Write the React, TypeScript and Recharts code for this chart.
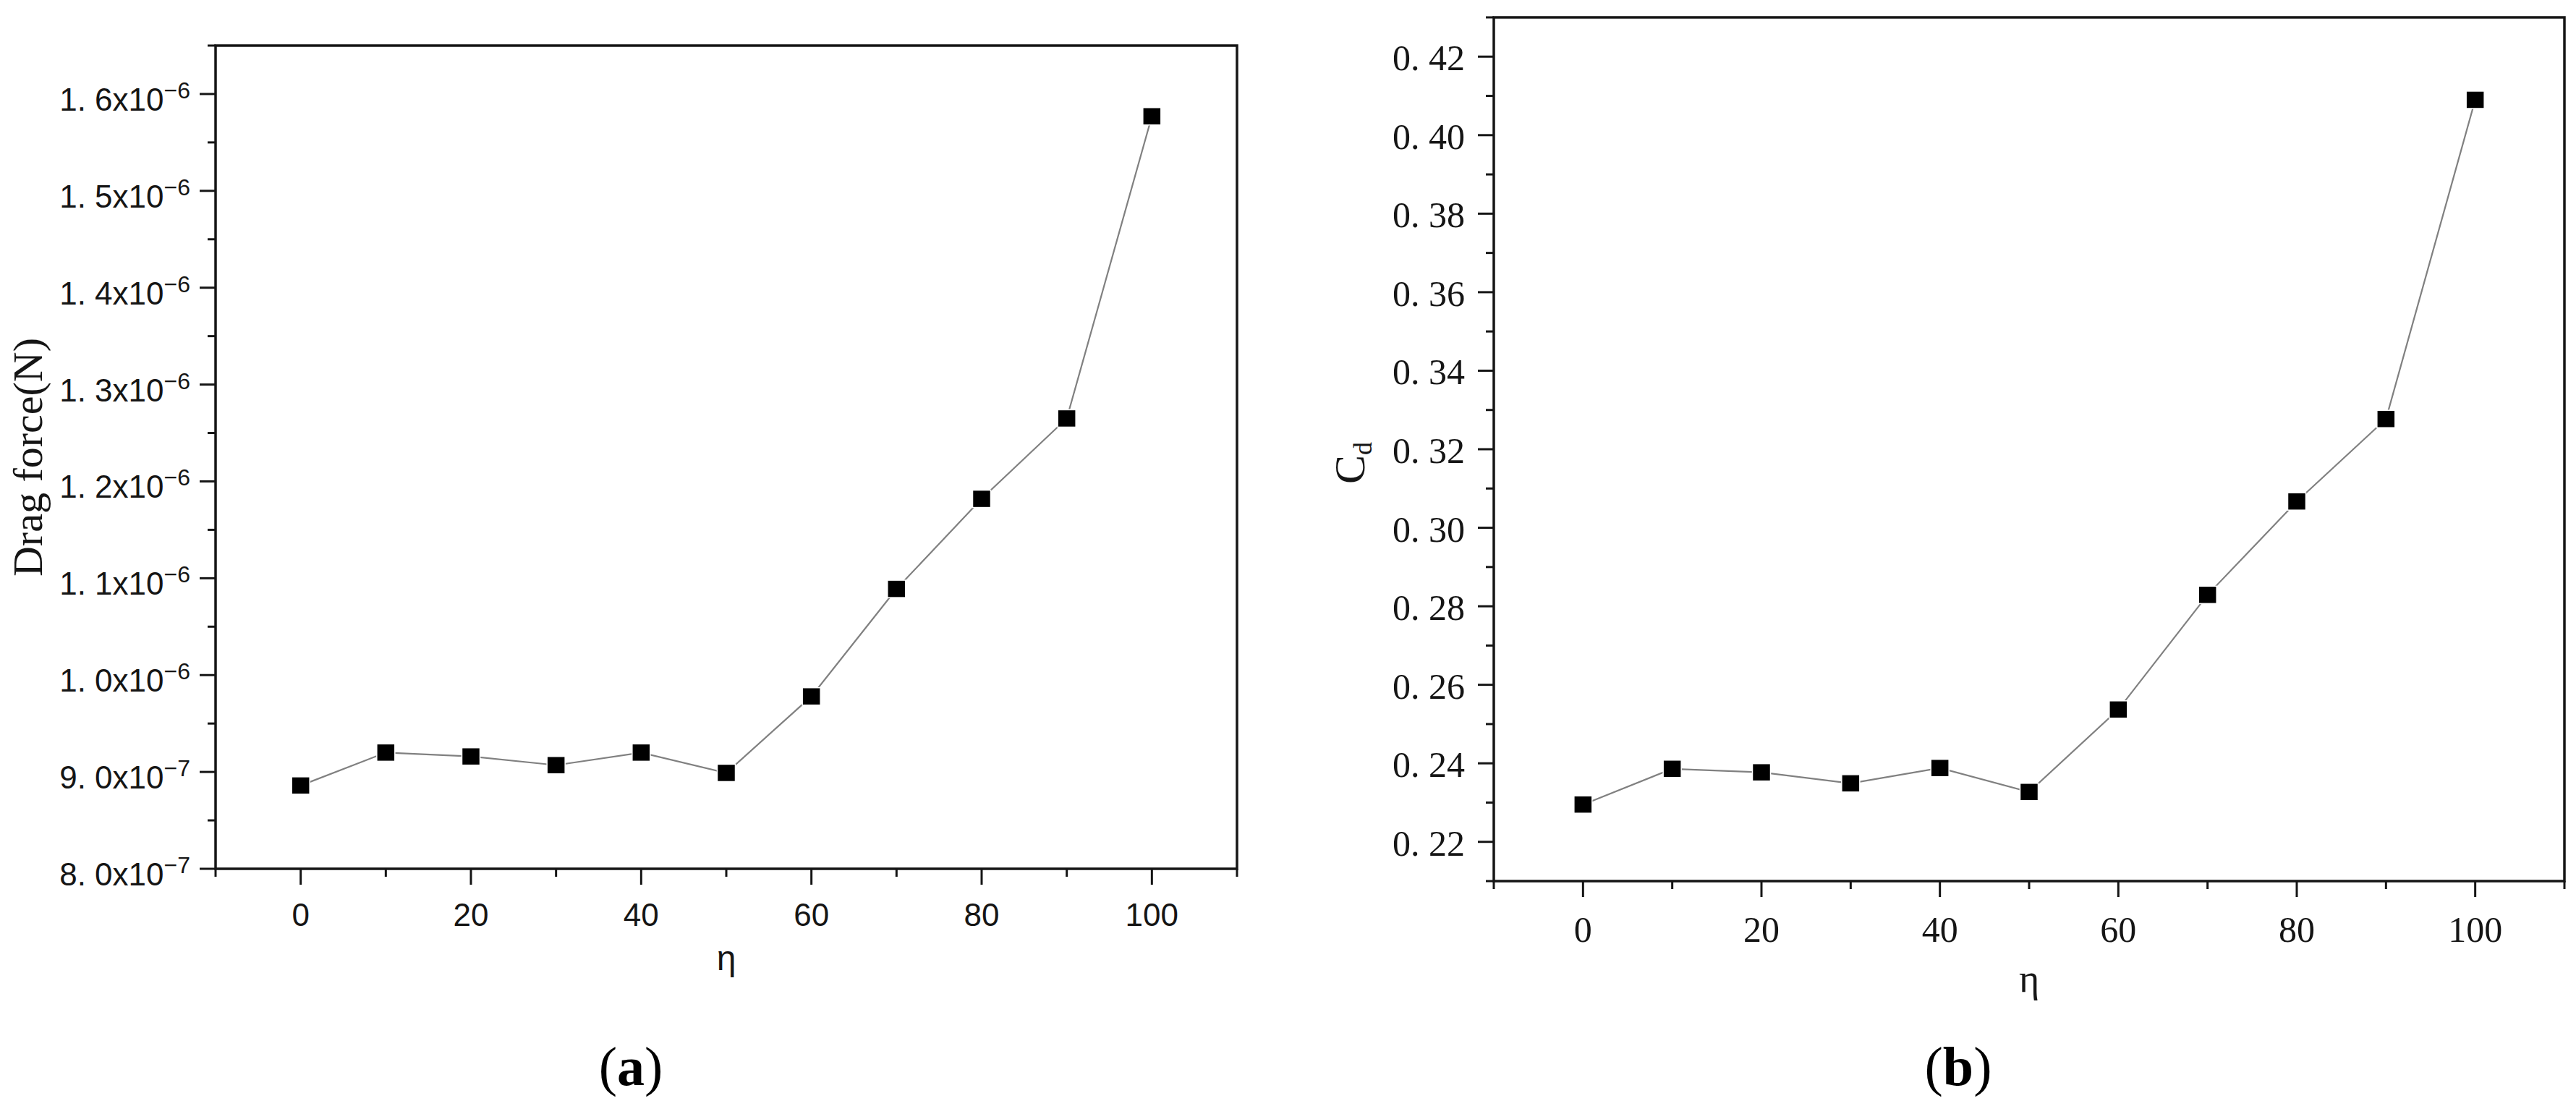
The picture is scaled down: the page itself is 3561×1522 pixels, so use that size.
import { LineChart, Line, XAxis, YAxis, ReferenceArea, Label } from 'recharts';

// η (%) on the x axis
const etaValues = [0, 10, 20, 30, 40, 50, 60, 70, 80, 90, 100];
// (a) drag force in N
const dragForce = [8.86e-7, 9.2e-7, 9.16e-7, 9.07e-7, 9.2e-7, 8.99e-7, 9.78e-7, 1.089e-6, 1.182e-6, 1.265e-6, 1.577e-6];
// (b) drag coefficient
const dragCoeff = [0.2295, 0.2386, 0.2377, 0.2349, 0.2388, 0.2327, 0.2537, 0.2829, 0.3067, 0.3277, 0.409];

const etaMajorTicks = [0, 20, 40, 60, 80, 100];
const etaMinorTicks = [-10, 10, 30, 50, 70, 90, 110];

const forceMajorTicks = [8e-7, 9e-7, 1e-6, 1.1e-6, 1.2e-6, 1.3e-6, 1.4e-6, 1.5e-6, 1.6e-6];
const forceTickMantissas = ['8. 0', '9. 0', '1. 0', '1. 1', '1. 2', '1. 3', '1. 4', '1. 5', '1. 6'];
const forceTickExponents = ['−7', '−7', '−6', '−6', '−6', '−6', '−6', '−6', '−6'];
const forceMinorTicks = [8.5e-7, 9.5e-7, 1.05e-6, 1.15e-6, 1.25e-6, 1.35e-6, 1.45e-6, 1.55e-6, 1.65e-6];

const cdMajorTicks = [0.22, 0.24, 0.26, 0.28, 0.3, 0.32, 0.34, 0.36, 0.38, 0.4, 0.42];
const cdTickLabels = ['0. 22', '0. 24', '0. 26', '0. 28', '0. 30', '0. 32', '0. 34', '0. 36', '0. 38', '0. 40', '0. 42'];
const cdMinorTicks = [0.21, 0.23, 0.25, 0.27, 0.29, 0.31, 0.33, 0.35, 0.37, 0.39, 0.41, 0.43];

const data = etaValues.map((eta, i) => ({ eta, force: dragForce[i], cd: dragCoeff[i] }));

const sans = "'Liberation Sans', Arial, sans-serif";
const serif = "'Liberation Serif', 'Times New Roman', serif";
const ink = '#151515';

const allSorted = (a: number[], b: number[]) => [...a, ...b].sort((p, q) => p - q);
const findTick = (list: number[], v: number) => list.findIndex((m) => Math.abs(m - v) <= Math.abs(m) * 1e-6 + 1e-12);

const makeEtaTick = (font: string, size: number, dy: number) => (props: any) => {
  const { x, y, payload } = props;
  const major = findTick(etaMajorTicks, payload.value) >= 0;
  return (
    <g>
      <line x1={x} x2={x} y1={y} y2={y + (major ? 22 : 11)} stroke={ink} strokeWidth={3} />
      {major && (
        <text x={x} y={y + dy} textAnchor="middle" fontFamily={font} fontSize={size} fill={ink}>
          {payload.value}
        </text>
      )}
    </g>
  );
};

const ForceTick = (props: any) => {
  const { x, y, payload } = props;
  const i = findTick(forceMajorTicks, payload.value);
  return (
    <g>
      <line x1={x} x2={x - (i >= 0 ? 22 : 11)} y1={y} y2={y} stroke={ink} strokeWidth={3} />
      {i >= 0 && (
        <text x={x - 35} y={y + 23} textAnchor="end" fontFamily={sans} fontSize={44} fill={ink}>
          {forceTickMantissas[i]}x10
          <tspan dy={-17} fontSize={32}>{forceTickExponents[i]}</tspan>
        </text>
      )}
    </g>
  );
};

const CdTick = (props: any) => {
  const { x, y, payload } = props;
  const i = findTick(cdMajorTicks, payload.value);
  return (
    <g>
      <line x1={x} x2={x - (i >= 0 ? 22 : 11)} y1={y} y2={y} stroke={ink} strokeWidth={3} />
      {i >= 0 && (
        <text x={x - 40} y={y + 19} textAnchor="end" fontFamily={serif} fontSize={50} fill={ink}>
          {cdTickLabels[i]}
        </text>
      )}
    </g>
  );
};

const squareDot = (p: any) => (
  <rect key={`sq-${p.index}`} x={p.cx - 12.5} y={p.cy - 12} width={25} height={24} fill="#000" stroke="#fff" strokeWidth={1.5} />
);

const caption = (letter: string, x: number) => (
  <text x={x} y={1500} textAnchor="middle" fontFamily={serif} fontSize={76} fill="#000">
    (<tspan fontWeight="bold">{letter}</tspan>)
  </text>
);

const App = () => {
  return (
    <div style={{ position: 'absolute', left: 0, top: 0, width: 3561, height: 1522, background: '#fff', overflow: 'hidden' }}>
      <div style={{ position: 'absolute', left: 0, top: 0 }}>
        <LineChart width={1780} height={1522} data={data} margin={{ top: 63, right: 70, bottom: 0, left: 0 }}>
          <XAxis
            dataKey="eta"
            type="number"
            domain={[-10, 110]}
            ticks={allSorted(etaMajorTicks, etaMinorTicks)}
            interval={0}
            tickSize={0}
            tickMargin={0}
            axisLine={false}
            tickLine={false}
            tick={makeEtaTick(sans, 44, 79)}
            height={321}
            allowDataOverflow
          >
            <Label
              content={() => (
                <g>
                  <text x={1004} y={1341} textAnchor="middle" fontFamily={sans} fontSize={48} fill={ink}>η</text>
                  {caption('a', 872)}
                </g>
              )}
            />
          </XAxis>
          <YAxis
            type="number"
            domain={[8e-7, 1.65e-6]}
            ticks={allSorted(forceMajorTicks, forceMinorTicks)}
            interval={0}
            tickSize={0}
            tickMargin={0}
            axisLine={false}
            tickLine={false}
            tick={ForceTick}
            width={298}
            allowDataOverflow
          >
            <Label
              content={() => (
                <text x={58} y={632} transform="rotate(-90 58 632)" textAnchor="middle" fontFamily={serif} fontSize={58} fill={ink}>
                  Drag force(N)
                </text>
              )}
            />
          </YAxis>
          <ReferenceArea x1={-10} x2={110} y1={8e-7} y2={1.65e-6} fill="none" stroke={ink} strokeWidth={3.5} ifOverflow="visible" />
          <Line type="linear" dataKey="force" stroke="#808080" strokeWidth={2.2} dot={squareDot} activeDot={false} isAnimationActive={false} />
        </LineChart>
      </div>
      <div style={{ position: 'absolute', left: 1780, top: 0 }}>
        <LineChart width={1781} height={1522} data={data} margin={{ top: 24, right: 16, bottom: 0, left: 0 }}>
          <XAxis
            dataKey="eta"
            type="number"
            domain={[-10, 110]}
            ticks={allSorted(etaMajorTicks, etaMinorTicks)}
            interval={0}
            tickSize={0}
            tickMargin={0}
            axisLine={false}
            tickLine={false}
            tick={makeEtaTick(serif, 50, 84)}
            height={304}
            allowDataOverflow
          >
            <Label
              content={() => (
                <g>
                  <text x={1025} y={1371} textAnchor="middle" fontFamily={serif} fontSize={54} fill={ink}>η</text>
                  {caption('b', 927)}
                </g>
              )}
            />
          </XAxis>
          <YAxis
            type="number"
            domain={[0.21, 0.43]}
            ticks={allSorted(cdMajorTicks, cdMinorTicks)}
            interval={0}
            tickSize={0}
            tickMargin={0}
            axisLine={false}
            tickLine={false}
            tick={CdTick}
            width={285}
            allowDataOverflow
          >
            <Label
              content={() => (
                <text x={106} y={640} transform="rotate(-90 106 640)" textAnchor="middle" fontFamily={serif} fontSize={60} fill={ink}>
                  C<tspan dy={10} fontSize={36}>d</tspan>
                </text>
              )}
            />
          </YAxis>
          <ReferenceArea x1={-10} x2={110} y1={0.21} y2={0.43} fill="none" stroke={ink} strokeWidth={3.5} ifOverflow="visible" />
          <Line type="linear" dataKey="cd" stroke="#808080" strokeWidth={2.2} dot={squareDot} activeDot={false} isAnimationActive={false} />
        </LineChart>
      </div>
    </div>
  );
};

export default App;
